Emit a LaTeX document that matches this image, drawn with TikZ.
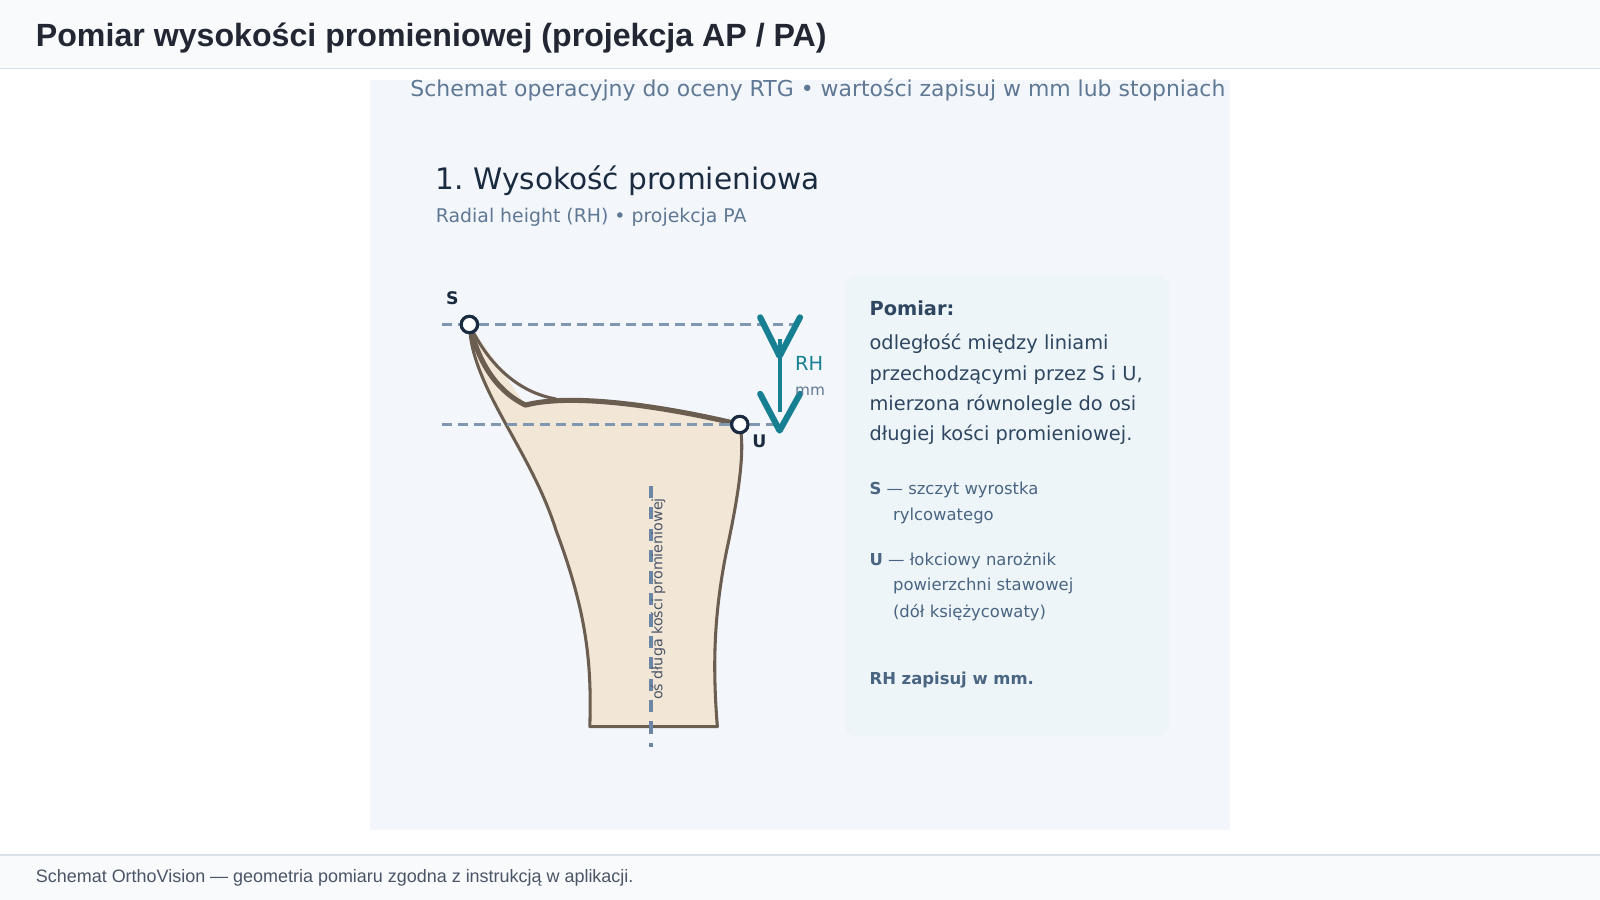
\documentclass[tikz,border=0pt]{standalone}
\usepackage{fontspec}
\setmainfont{DejaVu Sans}
\newfontfamily\arialfont{Liberation Sans}
\usetikzlibrary{positioning}
\frenchspacing
\definecolor{headbg}{HTML}{F8FAFC}
\definecolor{rulec}{HTML}{D8E0E8}
\definecolor{titlec}{HTML}{222733}
\definecolor{panelbg}{HTML}{F3F7FC}
\definecolor{subc}{HTML}{5F7894}
\definecolor{darkc}{HTML}{1A2B40}
\definecolor{infobg}{HTML}{EDF5F9}
\definecolor{infoc}{HTML}{2E4660}
\definecolor{notec}{HTML}{4A6582}
\definecolor{bonec}{HTML}{6B5E51}
\definecolor{bonefill}{HTML}{F2E6D6}
\definecolor{dashc}{HTML}{7F97B0}
\definecolor{axisc}{HTML}{6C87A6}
\definecolor{tealc}{HTML}{167F91}
\definecolor{footc}{HTML}{4A5566}
\begin{document}
\begin{tikzpicture}[x=1pt,y=-1pt,
  txt/.style={anchor=base west,inner sep=0pt},
  guide/.style={dashc,line width=2pt,dash pattern=on 10pt off 6pt},
  bone/.style={draw=bonec,line width=3pt,line join=round},
  landmark/.style={circle,draw=darkc,fill=white,line width=3pt,minimum size=16pt,inner sep=0pt},
  rh/.style={tealc,line width=6pt,line cap=round,line join=round}]
\useasboundingbox (0,0) rectangle (1568,882);
% header and footer
\fill[headbg] (0,0) rectangle (1568,67);
\draw[rulec,line width=1.5pt] (0,67) -- (1568,67);
\fill[headbg] (0,838) rectangle (1568,882);
\draw[rulec,line width=1.5pt] (0,838) -- (1568,838);
\node[txt,font=\arialfont\bfseries\fontsize{31.5}{36}\selectfont,text=titlec] (title) at (35,46) {Pomiar wysokości promieniowej (projekcja AP / PA)};
\node[txt,font=\arialfont\fontsize{17.6}{20}\selectfont,text=footc] (foot) at (35,865) {Schemat OrthoVision — geometria pomiaru zgodna z instrukcją w aplikacji.};
% panel
\fill[panelbg] (363,78) rectangle (1205,813);
\node[txt,font=\fontsize{21.5}{25}\selectfont,text=subc] (sub) at (402,95) {Schemat operacyjny do oceny RTG • wartości zapisuj w mm lub stopniach};
\node[txt,font=\fontsize{29}{34}\selectfont,text=darkc] (head) at (427,186) {1. Wysokość promieniowa};
\node[txt,font=\fontsize{18.5}{22}\selectfont,text=subc] (headsub) at (427,218) {Radial height (RH) • projekcja PA};
% bone
\fill[bonefill] (460,318) .. controls (462,380) and (520,440) .. (545,520)
  .. controls (575,600) and (580,650) .. (578,712) -- (703,712)
  .. controls (698,650) and (700,600) .. (712,540)
  .. controls (725,480) and (730,440) .. (725,416)
  .. controls (650,400) and (600,385) .. (515,397) -- cycle;
\draw[bone] (460,318) .. controls (462,380) and (520,440) .. (545,520)
  .. controls (575,600) and (580,650) .. (578,712) -- (703,712)
  .. controls (698,650) and (700,600) .. (712,540)
  .. controls (725,480) and (730,440) .. (725,416);
\draw[bone,line width=5pt] (460,318) .. controls (470,360) and (490,385) .. (515,397)
  .. controls (560,385) and (650,398) .. (725,416);
\draw[bone] (460,318) .. controls (480,360) and (510,385) .. (545,391);
% axis
\coordinate (axtop) at (638,476);
\coordinate (axbot) at (638,732);
\draw[axisc,line width=3pt,dash pattern=on 12pt off 9pt] (axtop) -- (axbot);
\node[rotate=90,font=\fontsize{14}{16}\selectfont,text=footc,inner sep=0pt] (axlbl) at (645,587) {oś długa kości promieniowej};
% guides
\node[landmark] (S) at (460,318) {};
\node[landmark] (U) at (725,416) {};
\coordinate (sl) at (433,318);
\coordinate (sr) at (780,318);
\coordinate (ul) at (433,416);
\coordinate (ur) at (770,416);
\draw[guide] (sl) -- (S);
\draw[guide] (S) -- (sr);
\draw[guide] (ul) -- (U);
\draw[guide] (U) -- (ur);
\node[landmark] at (S) {};
\node[landmark] at (U) {};
\node[txt,font=\bfseries\fontsize{17}{20}\selectfont,text=darkc] (Slbl) at (437,298) {S};
\node[txt,font=\bfseries\fontsize{17}{20}\selectfont,text=darkc] (Ulbl) at (737,439) {U};
% RH dimension
\coordinate (rhtop) at (764,332);
\coordinate (rhbot) at (764,404);
\draw[tealc,line width=4pt] (rhtop) -- (rhbot);
\draw[rh] (745,311) -- (764,349) -- (784,311);
\draw[rh] (745,386) -- (764,422) -- (784,386);
\node[txt,font=\fontsize{19}{22}\selectfont,text=tealc] (rhlbl) at (779,363) {RH};
\node[txt,font=\fontsize{15}{18}\selectfont,text=subc] (mmlbl) at (779,388) {mm};
% info box
\fill[infobg,rounded corners=12pt] (828,270) rectangle (1146,722);
\node[txt,font=\bfseries\fontsize{19}{22}\selectfont,text=infoc] (pom) at (852,309) {Pomiar:};
\foreach \t [count=\i] in {odległość między liniami,{przechodzącymi przez S i U,},mierzona równolegle do osi,długiej kości promieniowej.}
  \node[txt,font=\fontsize{19}{22}\selectfont,text=infoc] at (852,343+29.5*\i-29.5) {\t};
\node[txt,font=\fontsize{16.1}{19}\selectfont,text=notec] (sn) at (852,485) {\textbf{S} — szczyt wyrostka};
\node[txt,font=\fontsize{16.1}{19}\selectfont,text=notec] at (875,510) {rylcowatego};
\node[txt,font=\fontsize{16.1}{19}\selectfont,text=notec] (un) at (852,554) {\textbf{U} — łokciowy narożnik};
\node[txt,font=\fontsize{16.1}{19}\selectfont,text=notec] at (875,579) {powierzchni stawowej};
\node[txt,font=\fontsize{16.1}{19}\selectfont,text=notec] at (875,605) {(dół księżycowaty)};
\node[txt,font=\bfseries\fontsize{16.1}{19}\selectfont,text=notec] (rhnote) at (852,671) {RH zapisuj w mm.};
\end{tikzpicture}
\end{document}
